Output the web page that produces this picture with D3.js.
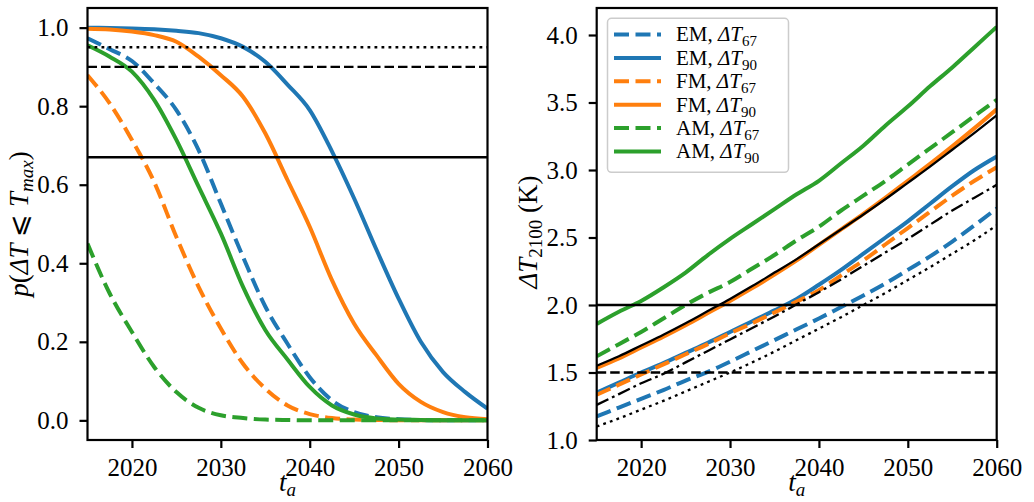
<html>
<head>
<meta charset="utf-8">
<title>Exceedance probability and threshold warming</title>
<style>
  body { margin: 0; background: #fff; }
  text { font-family: "Liberation Serif", "DejaVu Serif", serif; fill: #000; }
  .tick text { font-size: 25px; font-family: "Liberation Serif", "DejaVu Serif", serif; }
  .tick line { stroke: #000; stroke-width: 2.2px; }
  .frame { fill: none; stroke: #000; stroke-width: 2.2px; }
  .curve { fill: none; stroke-width: 4px; }
  .ref { fill: none; stroke: #000; stroke-width: 2.3px; }
</style>
</head>
<body>
<script src="https://cdnjs.cloudflare.com/ajax/libs/d3/7.8.5/d3.min.js"></script>
<script>
// shared time axis (years of assessment t_a)
var years = [2015, 2017.5, 2020, 2022.5, 2025, 2027.5, 2030, 2032.5, 2035, 2037.5,
             2040, 2042.5, 2045, 2047.5, 2050, 2052.5, 2055, 2057.5, 2060];
var xTicks = [2020, 2030, 2040, 2050, 2060];
var pTicks = [0.0, 0.2, 0.4, 0.6, 0.8, 1.0];
var tTicks = [1.0, 1.5, 2.0, 2.5, 3.0, 3.5, 4.0];

// left panel: p(dT <= Tmax)
var pEM67 = [0.973, 0.945, 0.915, 0.858, 0.790, 0.688, 0.552, 0.416, 0.290, 0.195, 0.110, 0.051, 0.021, 0.008, 0.003, 0.001, 0.000, 0.000, 0.000];
var pEM90 = [1.000, 0.999, 0.998, 0.996, 0.992, 0.986, 0.973, 0.951, 0.913, 0.855, 0.790, 0.685, 0.565, 0.435, 0.310, 0.200, 0.123, 0.072, 0.030];
var pFM67 = [0.879, 0.807, 0.714, 0.607, 0.467, 0.340, 0.234, 0.144, 0.081, 0.038, 0.016, 0.006, 0.002, 0.001, 0.000, 0.000, 0.000, 0.000, 0.000];
var pFM90 = [0.997, 0.995, 0.990, 0.981, 0.964, 0.926, 0.879, 0.824, 0.731, 0.612, 0.493, 0.357, 0.246, 0.166, 0.093, 0.047, 0.021, 0.008, 0.003];
var pAM67 = [0.450, 0.323, 0.225, 0.136, 0.072, 0.032, 0.013, 0.006, 0.002, 0.001, 0.000, 0.000, 0.000, 0.000, 0.000, 0.000, 0.000, 0.000, 0.000];
var pAM90 = [0.955, 0.926, 0.888, 0.816, 0.714, 0.595, 0.476, 0.340, 0.230, 0.155, 0.085, 0.038, 0.015, 0.005, 0.002, 0.001, 0.000, 0.000, 0.000];
var pLevels = [0.95, 0.90, 0.67];

// right panel: dT_2100 (K)
var tEM67 = [1.175, 1.240, 1.305, 1.370, 1.440, 1.505, 1.580, 1.660, 1.740, 1.820, 1.900, 1.985, 2.070, 2.160, 2.260, 2.360, 2.470, 2.590, 2.715];
var tEM90 = [1.350, 1.425, 1.500, 1.570, 1.645, 1.720, 1.800, 1.880, 1.960, 2.045, 2.150, 2.260, 2.380, 2.500, 2.620, 2.750, 2.880, 3.000, 3.100];
var tFM67 = [1.335, 1.410, 1.485, 1.560, 1.635, 1.710, 1.790, 1.865, 1.945, 2.025, 2.110, 2.220, 2.330, 2.450, 2.570, 2.690, 2.810, 2.920, 3.020];
var tFM90 = [1.535, 1.605, 1.685, 1.765, 1.850, 1.940, 2.030, 2.125, 2.225, 2.330, 2.445, 2.560, 2.675, 2.795, 2.920, 3.045, 3.175, 3.310, 3.450];
var tAM67 = [1.620, 1.710, 1.800, 1.900, 2.000, 2.090, 2.170, 2.270, 2.370, 2.480, 2.580, 2.700, 2.810, 2.920, 3.040, 3.160, 3.280, 3.400, 3.520];
var tAM90 = [1.860, 1.950, 2.030, 2.130, 2.240, 2.370, 2.490, 2.600, 2.710, 2.820, 2.920, 3.050, 3.180, 3.330, 3.470, 3.620, 3.760, 3.910, 4.060];
var refSolid   = [1.550, 1.620, 1.700, 1.780, 1.865, 1.955, 2.045, 2.140, 2.240, 2.340, 2.450, 2.560, 2.670, 2.785, 2.905, 3.025, 3.150, 3.275, 3.405];
var refDashDot = [1.260, 1.340, 1.420, 1.490, 1.575, 1.660, 1.745, 1.830, 1.915, 2.005, 2.095, 2.190, 2.290, 2.390, 2.490, 2.595, 2.700, 2.795, 2.890];
var refDotted  = [1.100, 1.160, 1.225, 1.290, 1.360, 1.430, 1.500, 1.575, 1.655, 1.740, 1.825, 1.910, 2.000, 2.090, 2.185, 2.280, 2.380, 2.480, 2.590];
var tLevels = [2.0, 1.5];

var models = ["EM", "EM", "FM", "FM", "AM", "AM"];
var subs   = ["67", "90", "67", "90", "67", "90"];
var colors = ["#1f77b4", "#1f77b4", "#ff7f0e", "#ff7f0e", "#2ca02c", "#2ca02c"];
var dashes = ["15,6.5", null, "15,6.5", null, "15,6.5", null];

var svg = d3.select("body").append("svg")
    .attr("width", 1034)
    .attr("height", 502);

var width = 400, height = 432;

function panel(left, domain, ticks) {
    var g = svg.append("g").attr("transform", "translate(" + left + ",8)");
    var x = d3.scaleLinear().domain([2015, 2060]).range([0, width]);
    var y = d3.scaleLinear().domain(domain).range([height, 0]);

    g.append("clipPath").attr("id", "clip" + Math.round(left))
        .append("rect").attr("width", width).attr("height", height);
    var plot = g.append("g").attr("clip-path", "url(#clip" + Math.round(left) + ")");

    g.append("g")
        .attr("transform", "translate(0," + height + ")")
        .call(d3.axisBottom(x).tickValues(xTicks).tickFormat(d3.format("d"))
            .tickSize(8).tickSizeOuter(0).tickPadding(10))
        .attr("font-family", null).attr("font-size", null)
        .call(function(a){ a.select(".domain").remove(); });
    g.append("g")
        .call(d3.axisLeft(y).tickValues(ticks).tickFormat(d3.format(".1f"))
            .tickSize(8).tickSizeOuter(0).tickPadding(11))
        .attr("font-family", null).attr("font-size", null)
        .call(function(a){ a.select(".domain").remove(); });

    return {g: g, plot: plot, x: x, y: y};
}

function drawSeries(p, series) {
    var line = d3.line()
        .x(function(d, i){ return p.x(years[i]); })
        .y(function(d){ return p.y(d); })
        .curve(d3.curveMonotoneX);
    series.forEach(function(s, i){
        p.plot.append("path")
            .datum(s)
            .attr("class", "curve")
            .attr("stroke", colors[i])
            .attr("stroke-dasharray", dashes[i])
            .attr("d", line);
    });
    return line;
}

function hline(p, v, dash) {
    p.plot.append("line")
        .attr("class", "ref")
        .attr("x1", 0).attr("x2", width)
        .attr("y1", p.y(v)).attr("y2", p.y(v))
        .attr("stroke-dasharray", dash);
}

// ---- left panel
var L = panel(87.5, [-0.05, 1.05], pTicks);
drawSeries(L, [pEM67, pEM90, pFM67, pFM90, pAM67, pAM90]);
hline(L, pLevels[0], "2.8,4.2");
hline(L, pLevels[1], "9.5,4");
hline(L, pLevels[2], null);
L.g.append("rect").attr("class", "frame").attr("width", width).attr("height", height);

// ---- right panel
var R = panel(596.7, [1.0, 4.2], tTicks);
var rline = drawSeries(R, [tEM67, tEM90, tFM67, tFM90, tAM67, tAM90]);
[[refSolid, null], [refDashDot, "13,4,2.8,4"], [refDotted, "2.8,4.2"]].forEach(function(r){
    R.plot.append("path").datum(r[0])
        .attr("class", "ref")
        .attr("stroke-dasharray", r[1])
        .attr("d", rline);
});
hline(R, tLevels[0], null);
hline(R, tLevels[1], "9.5,4");
R.g.append("rect").attr("class", "frame").attr("width", width).attr("height", height);

// legend
var leg = R.g.append("g").attr("transform", "translate(10.8,10.3)");
leg.append("rect")
    .attr("width", 181).attr("height", 154).attr("rx", 4)
    .attr("fill", "#fff").attr("fill-opacity", 0.8)
    .attr("stroke", "#cccccc").attr("stroke-width", 1.5);
models.forEach(function(m, i){
    var cy = 16.2 + i * 23.4;
    leg.append("line")
        .attr("x1", 6.5).attr("x2", 53.5)
        .attr("y1", cy).attr("y2", cy)
        .attr("stroke", colors[i]).attr("stroke-width", 4)
        .attr("stroke-dasharray", dashes[i]);
    var t = leg.append("text").attr("x", 68.5).attr("y", cy + 7).style("font-size", "21px");
    t.append("tspan").text(m + ", ");
    t.append("tspan").style("font-style", "italic").text("\u0394T");
    t.append("tspan").attr("dy", 5).style("font-size", "15px").text(subs[i]);
});

// axis labels
function xlabel(p) {
    var t = p.g.append("text")
        .attr("x", width / 2).attr("y", height + 51)
        .attr("text-anchor", "middle").style("font-size", "27px");
    t.append("tspan").style("font-style", "italic").text("t");
    t.append("tspan").attr("dy", 5).style("font-style", "italic").style("font-size", "19px").text("a");
}
xlabel(L);
xlabel(R);

var yl = svg.append("text")
    .attr("transform", "translate(28,224) rotate(-90)")
    .attr("text-anchor", "middle").style("font-size", "27px");
yl.append("tspan").style("font-style", "italic").text("p");
yl.append("tspan").text("(");
yl.append("tspan").style("font-style", "italic").text("\u0394T");
yl.append("tspan").text(" \u2A7D ");
yl.append("tspan").style("font-style", "italic").text("T");
yl.append("tspan").attr("dy", 5).style("font-style", "italic").style("font-size", "19px").text("max");
yl.append("tspan").attr("dy", -5).text(")");

var yr = svg.append("text")
    .attr("transform", "translate(537,232) rotate(-90)")
    .attr("text-anchor", "middle").style("font-size", "27px");
yr.append("tspan").style("font-style", "italic").text("\u0394T");
yr.append("tspan").attr("dy", 5).style("font-size", "19px").text("2100");
yr.append("tspan").attr("dy", -5).text(" (K)");
</script>
</body>
</html>
